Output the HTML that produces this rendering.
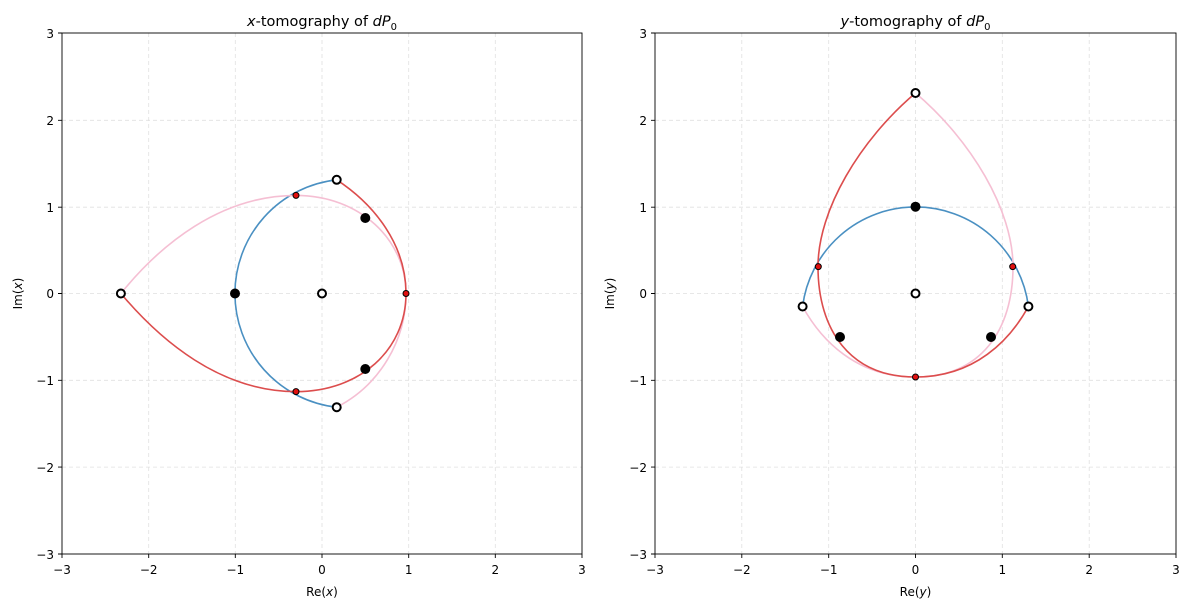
<!DOCTYPE html>
<html><head><meta charset="utf-8"><style>
body{margin:0;background:#fff;}
svg text{font-family:"DejaVu Sans","Liberation Sans",sans-serif;fill:#000;}
</style></head><body>
<svg width="1189" height="611" viewBox="0 0 1189 611" xmlns="http://www.w3.org/2000/svg">
<g stroke="#e0e0e0" stroke-width="0.8" stroke-dasharray="4,3">
<line x1="148.7" y1="33" x2="148.7" y2="554"/><line x1="235.3" y1="33" x2="235.3" y2="554"/><line x1="322" y1="33" x2="322" y2="554"/><line x1="408.7" y1="33" x2="408.7" y2="554"/><line x1="495.3" y1="33" x2="495.3" y2="554"/>
<line x1="62" y1="120.3" x2="582" y2="120.3"/><line x1="62" y1="207.2" x2="582" y2="207.2"/><line x1="62" y1="293.5" x2="582" y2="293.5"/><line x1="62" y1="380.3" x2="582" y2="380.3"/><line x1="62" y1="467.1" x2="582" y2="467.1"/>
<line x1="741.8" y1="33" x2="741.8" y2="554"/><line x1="828.7" y1="33" x2="828.7" y2="554"/><line x1="915.5" y1="33" x2="915.5" y2="554"/><line x1="1002.3" y1="33" x2="1002.3" y2="554"/><line x1="1089.2" y1="33" x2="1089.2" y2="554"/>
<line x1="655" y1="120.3" x2="1176" y2="120.3"/><line x1="655" y1="207.2" x2="1176" y2="207.2"/><line x1="655" y1="293.5" x2="1176" y2="293.5"/><line x1="655" y1="380.3" x2="1176" y2="380.3"/><line x1="655" y1="467.1" x2="1176" y2="467.1"/>
</g>
<g fill="none" stroke-width="1.6">
<path d="M336.7,179.8 A114.4,114.4 0 0 0 336.7,407.2" stroke="#4a90c2"/>
<path d="M120.9,293.5 C160,245 220,195.4 296,195.4 C360,195.4 406,240 406,293.5 C406,340 380,385 336.7,407.2" stroke="#f5bfd3"/>
<path d="M336.7,179.8 C375,205 406,245 406,293.5 C406,350 360,391.6 296,391.6 C220,391.6 160,340 120.9,293.5" stroke="#dc4d4d"/>
<path d="M802.6,306.5 A113.8,113.8 0 0 1 1028.4,306.5" stroke="#4a90c2"/>
<path d="M915.5,93 C971,140 1013,210 1013,266.6 C1013,330 981,377 915.5,377 C856,377 821,340 802.6,306.5" stroke="#f5bfd3"/>
<path d="M915.5,93 C860,140 818,210 818,266.6 C818,330 850,377 915.5,377 C975,377 1010,340 1028.4,306.5" stroke="#dc4d4d"/>
</g>
<g fill="#000">
<circle cx="235" cy="293.5" r="5"/><circle cx="365.3" cy="218" r="5"/><circle cx="365.3" cy="369" r="5"/>
<circle cx="915.5" cy="206.7" r="5"/><circle cx="840" cy="337" r="5"/><circle cx="991" cy="337" r="5"/>
</g>
<g fill="#fff" stroke="#000" stroke-width="2">
<circle cx="120.9" cy="293.5" r="4"/><circle cx="322" cy="293.5" r="4"/><circle cx="336.7" cy="179.8" r="4"/><circle cx="336.7" cy="407.2" r="4"/>
<circle cx="915.5" cy="93" r="4"/><circle cx="915.5" cy="293.5" r="4"/><circle cx="802.6" cy="306.5" r="4"/><circle cx="1028.4" cy="306.5" r="4"/>
</g>
<g fill="#e01010" stroke="#000" stroke-width="1">
<circle cx="296" cy="195.4" r="3"/><circle cx="296" cy="391.6" r="3"/><circle cx="406" cy="293.5" r="3"/>
<circle cx="818.3" cy="266.6" r="3"/><circle cx="1012.7" cy="266.6" r="3"/><circle cx="915.5" cy="377" r="3"/>
</g>
<g fill="none" stroke="#000" stroke-width="0.9">
<rect x="62" y="33" width="520" height="521"/><rect x="655" y="33" width="521" height="521"/>
<path d="M62,554v4M148.7,554v4M235.3,554v4M322,554v4M408.7,554v4M495.3,554v4M582,554v4M62,33h-4M62,120.3h-4M62,207.2h-4M62,293.5h-4M62,380.3h-4M62,467.1h-4M62,554h-4"/>
<path d="M655,554v4M741.8,554v4M828.7,554v4M915.5,554v4M1002.3,554v4M1089.2,554v4M1176,554v4M655,33h-4M655,120.3h-4M655,207.2h-4M655,293.5h-4M655,380.3h-4M655,467.1h-4M655,554h-4"/>
</g>
<g font-size="12" text-anchor="middle">
<text x="62" y="574">−3</text><text x="148.7" y="574">−2</text><text x="235.3" y="574">−1</text><text x="322" y="574">0</text><text x="408.7" y="574">1</text><text x="495.3" y="574">2</text><text x="582" y="574">3</text>
<text x="655" y="574">−3</text><text x="741.8" y="574">−2</text><text x="828.7" y="574">−1</text><text x="915.5" y="574">0</text><text x="1002.3" y="574">1</text><text x="1089.2" y="574">2</text><text x="1176" y="574">3</text>
<text x="322" y="596">Re(<tspan font-style="italic">x</tspan>)</text>
<text x="915.5" y="596">Re(<tspan font-style="italic">y</tspan>)</text>
</g>
<g font-size="12" text-anchor="end">
<text x="54" y="38">3</text><text x="54" y="125">2</text><text x="54" y="212">1</text><text x="54" y="298">0</text><text x="54" y="385">−1</text><text x="54" y="472">−2</text><text x="54" y="559">−3</text>
<text x="647" y="38">3</text><text x="647" y="125">2</text><text x="647" y="212">1</text><text x="647" y="298">0</text><text x="647" y="385">−1</text><text x="647" y="472">−2</text><text x="647" y="559">−3</text>
</g>
<text font-size="12" text-anchor="middle" transform="translate(22,293.5) rotate(-90)">Im(<tspan font-style="italic">x</tspan>)</text>
<text font-size="12" text-anchor="middle" transform="translate(614,293.5) rotate(-90)">Im(<tspan font-style="italic">y</tspan>)</text>
<text x="322" y="26" font-size="14.5" text-anchor="middle"><tspan font-style="italic">x</tspan>-tomography of <tspan font-style="italic">dP</tspan><tspan font-size="10" dy="4">0</tspan></text>
<text x="915.5" y="26" font-size="14.5" text-anchor="middle"><tspan font-style="italic">y</tspan>-tomography of <tspan font-style="italic">dP</tspan><tspan font-size="10" dy="4">0</tspan></text>
</svg>
</body></html>
